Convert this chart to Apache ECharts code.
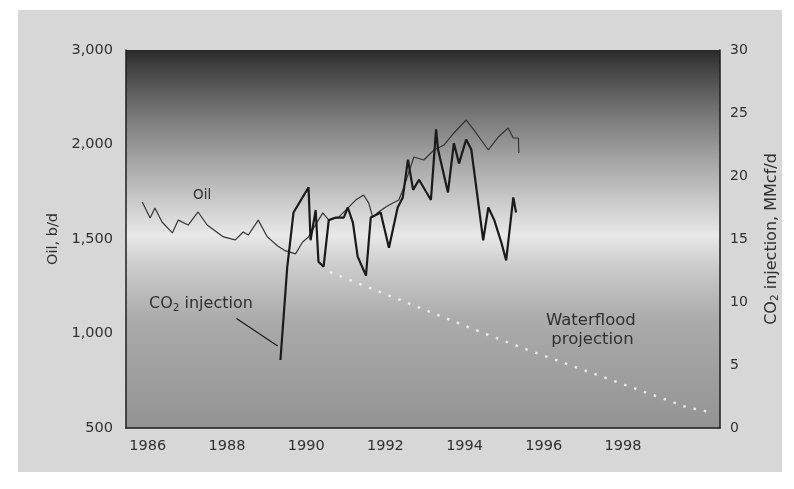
<!DOCTYPE html>
<html>
<head>
<meta charset="utf-8">
<script src="https://cdn.jsdelivr.net/npm/echarts@6/dist/echarts.min.js"></script>
<style>
  html, body { margin: 0; padding: 0; background: #ffffff; }
  #chart { width: 794px; height: 489px; }
</style>
</head>
<body>
<div id="chart"></div>
<script>
// Oil production, b/d
const oilYears = [1985.86, 1986.06, 1986.18, 1986.36, 1986.62, 1986.77, 1987.02, 1987.27, 1987.50, 1987.91,
  1988.21, 1988.41, 1988.54, 1988.79, 1989.02, 1989.28, 1989.48, 1989.73, 1989.91, 1990.06,
  1990.19, 1990.42, 1990.57, 1990.82, 1991.00, 1991.25, 1991.45, 1991.58, 1991.68, 1991.83,
  1992.01, 1992.19, 1992.34, 1992.44, 1992.57, 1992.72, 1992.97, 1993.23, 1993.48, 1993.73,
  1994.04, 1994.24, 1994.60, 1994.85, 1995.10, 1995.23, 1995.36, 1995.37];
const oilBpd = [1696, 1611, 1664, 1590, 1532, 1600, 1574, 1643, 1574, 1511,
  1495, 1537, 1521, 1600, 1511, 1463, 1437, 1421, 1484, 1511,
  1558, 1638, 1600, 1616, 1653, 1706, 1733, 1690, 1616, 1643,
  1669, 1690, 1706, 1759, 1839, 1934, 1918, 1971, 1997, 2122,
  2259, 2153, 1971, 2079, 2175, 2069, 2069, 1955];

// CO2 injection, MMcf/d
const co2Years = [1989.35, 1989.52, 1989.68, 1990.06, 1990.11, 1990.24, 1990.31, 1990.44, 1990.57, 1990.75,
  1990.95, 1991.05, 1991.18, 1991.30, 1991.51, 1991.63, 1991.76, 1991.88, 1992.09, 1992.31,
  1992.44, 1992.57, 1992.70, 1992.85, 1993.15, 1993.28, 1993.33, 1993.58, 1993.73, 1993.86,
  1994.04, 1994.17, 1994.47, 1994.60, 1994.75, 1994.93, 1995.05, 1995.23, 1995.30];
const co2Rate = [5.4, 12.7, 17.1, 19.1, 14.9, 17.3, 13.2, 12.8, 16.5, 16.7,
  16.7, 17.5, 16.3, 13.6, 12.1, 16.7, 16.9, 17.1, 14.3, 17.5,
  18.3, 21.3, 18.9, 19.7, 18.1, 23.7, 22.1, 18.7, 22.6, 21.0,
  22.9, 22.1, 14.9, 17.5, 16.5, 14.7, 13.3, 18.3, 17.1];

// Projected oil rate under continued waterflood, b/d
const waterfloodYears = [1990.6, 1994.5, 1995.6, 1999.6, 2000.3];
const waterfloodBpd = [1325, 1000, 913, 611, 579];

// Oil axis tick values (evenly spaced on the axis)
const oilTicks = [500, 1000, 1500, 2000, 3000];
const oilTickLabels = ['500', '1,000', '1,500', '2,000', '3,000'];
const co2Ticks = [0, 5, 10, 15, 20, 25, 30];
const yearTicks = [1986, 1988, 1990, 1992, 1994, 1996, 1998];

// The oil axis places its ticks at equal steps, so b/d values are
// mapped piecewise-linearly between neighbouring ticks.
function oilToAxis(v) {
  for (let i = 0; i < oilTicks.length - 1; i++) {
    const a = oilTicks[i], b = oilTicks[i + 1];
    if (v <= b || i === oilTicks.length - 2) {
      return i + (v - a) / (b - a);
    }
  }
}

const oilData = oilYears.map((y, i) => [y, oilToAxis(oilBpd[i])]);
const co2Data = co2Years.map((y, i) => [y, co2Rate[i]]);
const waterfloodData = waterfloodYears.map((y, i) => [y, oilToAxis(waterfloodBpd[i])]);

const textColor = '#303030';
const fontFamily = '"DejaVu Sans", sans-serif';
const tickSize = 14.5;
const noteSize = 16;

const chart = echarts.init(document.getElementById('chart'), null, { renderer: 'canvas' });

chart.setOption({
  backgroundColor: '#ffffff',
  animation: false,
  graphic: [
    {
      type: 'rect', z: -10, silent: true,
      shape: { x: 18, y: 10, width: 764, height: 462 },
      style: { fill: '#d7d7d7' }
    },
    {
      type: 'text', z: 50, left: 193, top: 188,
      style: { text: 'Oil', fontSize: 13.5, fill: textColor, fontFamily: fontFamily }
    },
    {
      type: 'text', z: 50, left: 149, top: 296,
      style: {
        text: 'CO{s|2} injection',
        fontSize: noteSize, fill: textColor, fontFamily: fontFamily,
        rich: { s: { fontSize: 10.5, fill: textColor, verticalAlign: 'bottom', padding: [8, 0, 0, 0], fontFamily: fontFamily } }
      }
    },
    {
      type: 'text', z: 50, left: 546, top: 311,
      style: {
        text: 'Waterflood\n projection',
        fontSize: 16.5, lineHeight: 19, fill: textColor, fontFamily: fontFamily
      }
    }
  ],
  grid: {
    left: 126, right: 74, top: 50, bottom: 61,
    show: true,
    borderWidth: 0,
    backgroundColor: new echarts.graphic.LinearGradient(0, 0, 0, 1, [
      { offset: 0.00, color: '#2a2a2a' },
      { offset: 0.05, color: '#444444' },
      { offset: 0.16, color: '#737373' },
      { offset: 0.29, color: '#a4a4a4' },
      { offset: 0.41, color: '#cdcdcd' },
      { offset: 0.49, color: '#e8e8e8' },
      { offset: 0.57, color: '#cccccc' },
      { offset: 0.71, color: '#ababab' },
      { offset: 1.00, color: '#939393' }
    ])
  },
  xAxis: {
    type: 'value',
    min: 1985.45,
    max: 2000.45,
    axisLine: { show: true, onZero: false, lineStyle: { color: '#1e1e1e', width: 1.5 } },
    axisTick: { show: false },
    splitLine: { show: false },
    axisLabel: {
      customValues: yearTicks,
      color: textColor, fontSize: tickSize, fontFamily: fontFamily, margin: 11,
      formatter: v => String(v)
    }
  },
  yAxis: [
    {
      type: 'value',
      position: 'left',
      min: 0, max: oilTicks.length - 1, interval: 1,
      name: 'Oil, b/d',
      nameLocation: 'middle',
      nameGap: 40,
      nameRotate: 90,
      nameTextStyle: { color: textColor, fontSize: tickSize, fontFamily: fontFamily },
      axisLine: { show: true, lineStyle: { color: '#1e1e1e', width: 1.5 } },
      axisTick: { show: false },
      splitLine: { show: false },
      axisLabel: {
        color: textColor, fontSize: tickSize, fontFamily: fontFamily, margin: 13,
        formatter: v => oilTickLabels[Math.round(v)] || ''
      }
    },
    {
      type: 'value',
      position: 'right',
      min: 0, max: 30, interval: 5,
      name: 'CO{s|2} injection, MMcf/d',
      nameLocation: 'middle',
      nameGap: 42,
      nameRotate: 90,
      nameTextStyle: {
        color: textColor, fontSize: 16, fontFamily: fontFamily,
        rich: { s: { fontSize: 10.5, color: textColor, fontFamily: fontFamily, padding: [8, 0, 0, 0] } }
      },
      axisLine: { show: true, lineStyle: { color: '#1e1e1e', width: 1.5 } },
      axisTick: { show: false },
      splitLine: { show: false },
      axisLabel: {
        color: textColor, fontSize: 14, fontFamily: fontFamily, margin: 10,
        formatter: v => (co2Ticks.indexOf(v) >= 0 ? String(v) : '')
      }
    }
  ],
  series: [
    {
      name: 'Waterflood projection',
      type: 'line',
      yAxisIndex: 0,
      data: waterfloodData,
      symbol: 'none',
      lineStyle: { color: 'rgba(245,245,245,0.85)', width: 2.5, type: [2.5, 8] },
      z: 3
    },
    {
      name: 'Oil',
      type: 'line',
      yAxisIndex: 0,
      data: oilData,
      symbol: 'none',
      lineStyle: { color: '#353535', width: 1.2 },
      z: 4
    },
    {
      name: 'CO2 injection',
      type: 'line',
      yAxisIndex: 1,
      data: co2Data,
      symbol: 'none',
      lineStyle: { color: '#1a1a1a', width: 2.2 },
      z: 5,
      markLine: {
        silent: true,
        symbol: ['none', 'none'],
        label: { show: false },
        lineStyle: { color: '#1a1a1a', width: 1.2, type: 'solid' },
        data: [[{ coord: [1988.24, 8.7] }, { coord: [1989.28, 6.5] }]]
      }
    }
  ]
});
</script>
</body>
</html>
